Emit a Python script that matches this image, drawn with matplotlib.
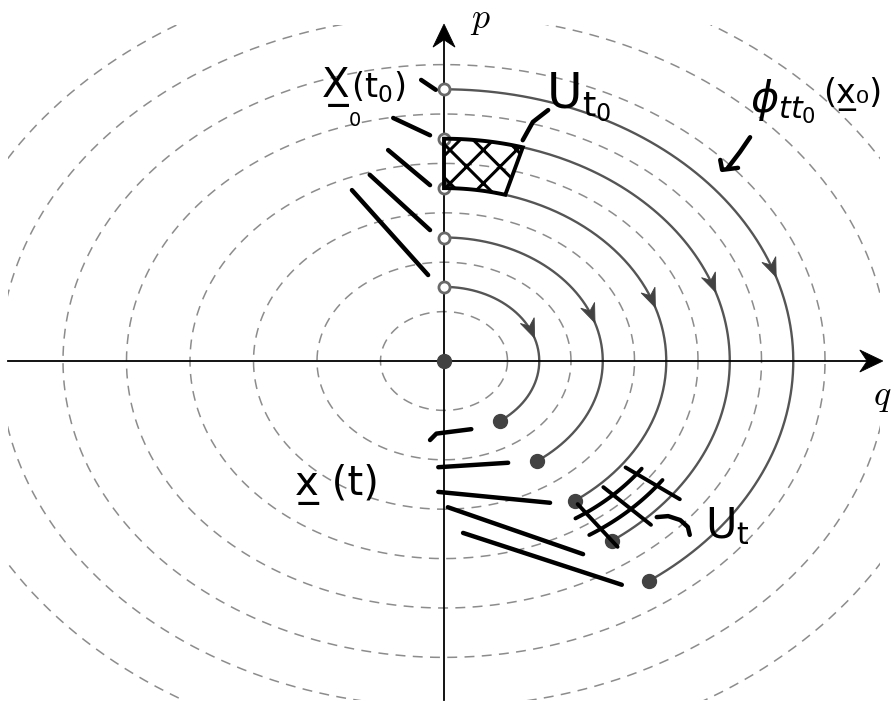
import numpy as np
import matplotlib.pyplot as plt
from matplotlib.patches import Polygon, Rectangle

# energy levels H = (q^2 + p^2)/2 drawn as dashed curves
level_radii = [1, 2, 3, 4, 5, 6, 7, 8]
# trajectories starting on the p axis, running clockwise
orbit_radii = [1.5, 2.5, 3.5, 4.5, 5.5]
theta_start = 90.0
theta_end = -54.0
theta_arrow = 18.0
# phase-space cell U_t0 and its image U_t (same angular width)
cell_r = (3.5, 4.5)
cell_span = 16.0

# hand-written pointer strokes (q, p)
start_strokes = [
    [(-0.36, 5.69), (-0.13, 5.49)],
    [(-0.80, 4.92), (-0.22, 4.57)],
    [(-0.88, 4.27), (-0.22, 3.56)],
    [(-1.17, 3.77), (-0.22, 2.65)],
    [(-1.45, 3.46), (-0.25, 1.74)],
]
end_strokes = [
    [(-0.22, -1.60), (-0.12, -1.47), (0.43, -1.38)],
    [(-0.09, -2.15), (1.01, -2.06)],
    [(-0.09, -2.65), (1.67, -2.87)],
    [(0.06, -2.96), (2.19, -3.91)],
    [(0.30, -3.48), (2.80, -4.53)],
]
pointer_strokes = [
    [(1.64, 5.08), (1.40, 4.84), (1.24, 4.47)],
    [(3.35, -3.16), (3.53, -3.14), (3.72, -3.22), (3.84, -3.36), (3.87, -3.52)],
    [(4.82, 4.53), (4.66, 4.23), (4.47, 3.91)],
    [(4.35, 4.07), (4.38, 3.87), (4.63, 3.91)],
]

DASH = '#8c8c8c'
ORBIT = '#555555'
DARK = '#424242'
INK = 'black'

fig = plt.figure(figsize=(8.95, 7.02), dpi=100)
ax = fig.add_axes([0, 0, 1, 1])
ax.set_xlim(-6.992, 7.102)
ax.set_ylim(-6.903, 7.308)
ax.axis('off')


def arrow_head(tip, direction, length, width, color, z):
    T = ax.transData.transform(tip)
    D = ax.transData.transform(np.add(tip, direction)) - T
    d = D / np.hypot(*D)
    n = np.array([-d[1], d[0]])
    pts = [T, T - length * d + width / 2 * n, T - 0.68 * length * d,
           T - length * d - width / 2 * n]
    pts = ax.transData.inverted().transform(pts)
    ax.add_patch(Polygon(pts, closed=True, facecolor=color, edgecolor=color,
                         lw=0.6, zorder=z))


def sector(r0, r1, a0, a1, n=40):
    t = np.radians(np.linspace(a0, a1, n))
    outer = np.column_stack([r1 * np.cos(t), r1 * np.sin(t)])
    inner = np.column_stack([r0 * np.cos(t[::-1]), r0 * np.sin(t[::-1])])
    return np.vstack([outer, inner])


# dashed level curves, clipped to the drawing box
clip = Rectangle((-6.87, -6.87), 13.74, 13.67, transform=ax.transData,
                 fill=False, visible=False)
ax.add_patch(clip)
t = np.linspace(0, 2 * np.pi, 721)
for r in level_radii:
    line, = ax.plot(r * np.cos(t), r * np.sin(t), color=DASH, lw=1.1,
                    ls=(0, (6.5, 4.8)), zorder=1)
    line.set_clip_path(clip)

# axes with arrows
ax.plot([-6.87, 6.7], [0, 0], color='black', lw=1.3, zorder=3)
ax.plot([0, 0], [-6.86, 6.6], color='black', lw=1.3, zorder=3)
arrow_head((6.91, 0), (0.01, 0), 23, 22, 'black', 4)
arrow_head((0, 6.82), (0, 0.01), 23, 22, 'black', 4)
ax.text(0.57, 6.9, r'$p$', math_fontfamily='cm', fontsize=26,
        ha='center', va='center')
ax.text(6.9, -0.73, r'$q$', math_fontfamily='cm', fontsize=26,
        ha='center', va='center')

# trajectories
for r in orbit_radii:
    th = np.radians(np.linspace(theta_start, theta_end, 200))
    ax.plot(r * np.cos(th), r * np.sin(th), color=ORBIT, lw=1.7, zorder=2)
    ta = np.radians(theta_arrow)
    arrow_head((r * np.cos(ta), r * np.sin(ta)),
               (0.01 * np.sin(ta), -0.01 * np.cos(ta)), 19, 15, DARK, 5)
    te = np.radians(theta_end)
    ax.plot(0, r, 'o', ms=8, mfc='white', mec='#6a6a6a', mew=2, zorder=6)
    ax.plot(r * np.cos(te), r * np.sin(te), 'o', ms=10, color=DARK, zorder=6)
ax.plot(0, 0, 'o', ms=10, color=DARK, zorder=6)

# cell U_t0 on the p axis, cross-hatched
plt.rcParams['hatch.linewidth'] = 2.2
cell0 = sector(cell_r[0], cell_r[1], theta_start, theta_start - cell_span)
ax.add_patch(Polygon(cell0, closed=True, facecolor='none', edgecolor=INK,
                     lw=2.8, hatch='x', zorder=7))

# its image U_t at the end of the orbits, drawn as a grid
a0, a1 = theta_end, theta_end + cell_span + 1
for a in np.linspace(a0, a1, 3):
    ar = np.radians(a)
    rr = np.array([cell_r[0] + 0.08, cell_r[1] + 0.15])
    ax.plot(rr * np.cos(ar), rr * np.sin(ar), color=INK, lw=2.8,
            solid_capstyle='round', zorder=7)
for r in [3.8, 4.2]:
    th = np.radians(np.linspace(a0 - 3, a1 + 2, 30))
    ax.plot(r * np.cos(th), r * np.sin(th), color=INK, lw=2.8,
            solid_capstyle='round', zorder=7)

# hand-written strokes
for s in start_strokes + end_strokes + pointer_strokes:
    s = np.array(s)
    ax.plot(s[:, 0], s[:, 1], color=INK, lw=3.2, solid_capstyle='round',
            solid_joinstyle='round', zorder=8)

# hand-written labels
ax.text(-1.92, 5.34, 'X\u0332', fontsize=29, color=INK,
        ha='left', va='baseline', zorder=9)
ax.text(-1.40, 4.86, '0', fontsize=14, color=INK,
        ha='center', va='center', zorder=9)
ax.text(-1.46, 5.34, r'$\mathsf{(t_0)}$', math_fontfamily='dejavusans',
        fontsize=24, color=INK, ha='left', va='baseline', zorder=9)
ax.text(1.61, 5.12, r'$\mathsf{U}_{\mathsf{t}_0}$', math_fontfamily='dejavusans',
        fontsize=35, color=INK, ha='left', va='baseline', zorder=9)
ax.text(4.82, 5.04, r'$\phi_{tt_0}$', math_fontfamily='dejavusans',
        fontsize=31, color=INK, ha='left', va='baseline', zorder=9)
ax.text(5.97, 5.22, '(x\u0332\u2080)', fontsize=24, color=INK,
        ha='left', va='baseline', zorder=9)
ax.text(-2.35, -2.71, 'x\u0332 (t)', fontsize=29, color=INK,
        ha='left', va='baseline', zorder=9)
ax.text(4.11, -3.58, r'$\mathsf{U}_\mathsf{t}$', math_fontfamily='dejavusans',
        fontsize=31, color=INK, ha='left', va='baseline', zorder=9)

fig.savefig('out.png', dpi=100)
